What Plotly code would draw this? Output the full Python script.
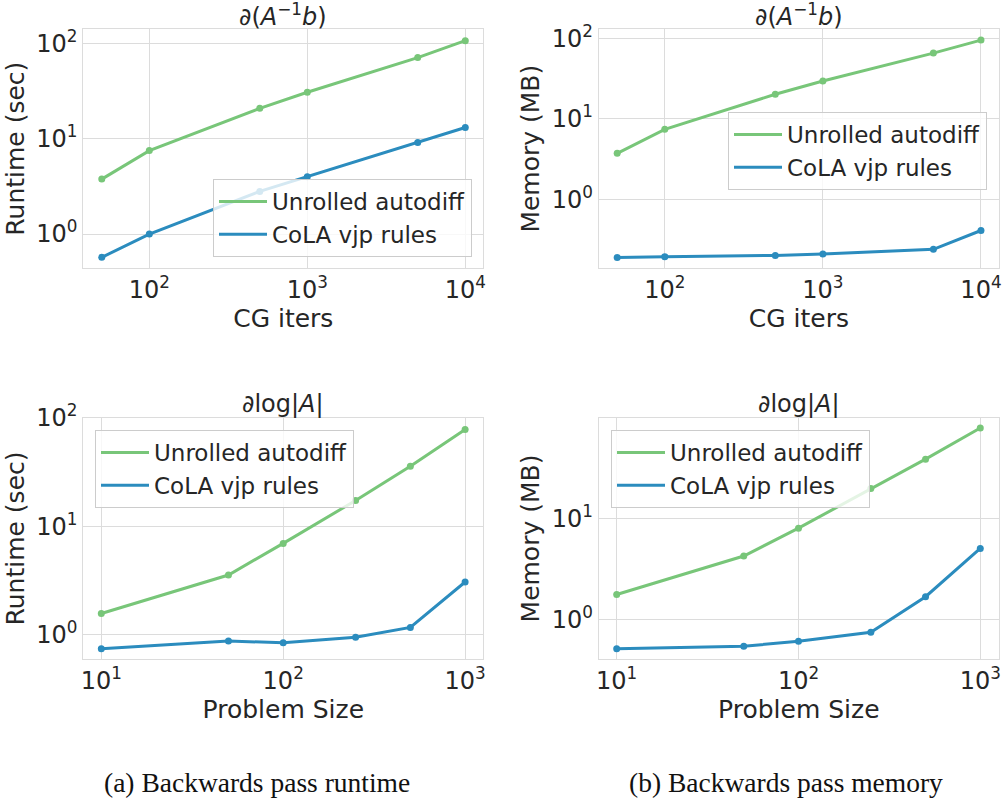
import plotly.graph_objects as go

# ---------------- data ----------------
cg_iters = [50, 100, 500, 1000, 5000, 10000]
problem_size = [10, 50, 100, 250, 500, 1000]

runtime_cg_unrolled = [3.77, 7.5, 20.8, 30.7, 70.8, 106.7]
runtime_cg_cola = [0.57, 1.0, 2.8, 4.0, 9.1, 13.1]
memory_cg_unrolled = [3.73, 7.4, 20.2, 29.5, 65.5, 95.0]
memory_cg_cola = [0.189, 0.194, 0.201, 0.209, 0.239, 0.41]

runtime_logdet_unrolled = [1.56, 3.54, 6.94, 17.3, 35.8, 78.5]
runtime_logdet_cola = [0.736, 0.867, 0.838, 0.94, 1.16, 3.05]
memory_logdet_unrolled = [1.78, 4.25, 8.0, 19.6, 38.2, 77.3]
memory_logdet_cola = [0.52, 0.55, 0.615, 0.755, 1.69, 5.05]

series_names = ["Unrolled autodiff", "CoLA vjp rules"]
x_tick_vals_cg = [100, 1000, 10000]
x_tick_text_cg = ["10<sup>2</sup>", "10<sup>3</sup>", "10<sup>4</sup>"]
x_tick_vals_ps = [10, 100, 1000]
x_tick_text_ps = ["10<sup>1</sup>", "10<sup>2</sup>", "10<sup>3</sup>"]
y_tick_vals = [1, 10, 100]
y_tick_text = ["10<sup>0</sup>", "10<sup>1</sup>", "10<sup>2</sup>"]

title_inv = "∂(<i>A</i><sup>−1</sup><i>b</i>)"
title_logdet = "∂log|<i>A</i>|"
captions = ["(a) Backwards pass runtime", "(b) Backwards pass memory"]

# ---------------- style ----------------
W, H = 1002, 801
GREEN = "#78c679"
BLUE = "#2b8cbe"
FONT = "DejaVu Sans"
TXT = "#262626"
GRID = "#dcdcdc"


def px_x(p):
    return p / W


def px_y(p):
    return 1 - p / H


panels = [
    dict(x=cg_iters, ys=[runtime_cg_unrolled, runtime_cg_cola],
         xd=(83.3, 483.3), yd=(29.3, 268), xr=[1.582, 4.114], yr=[-0.356, 2.147],
         xt=(x_tick_vals_cg, x_tick_text_cg),
         leg=dict(x=px_x(472), y=px_y(257), xanchor="right", yanchor="bottom"),
         title=title_inv, title_base=29, xlabel="CG iters", ylabel="Runtime (sec)"),
    dict(x=cg_iters, ys=[memory_cg_unrolled, memory_cg_cola],
         xd=(598.7, 999), yd=(29.3, 268), xr=[1.582, 4.114], yr=[-0.853, 2.112],
         xt=(x_tick_vals_cg, x_tick_text_cg),
         leg=dict(x=px_x(987), y=px_y(112), xanchor="right", yanchor="top"),
         title=title_inv, title_base=29, xlabel="CG iters", ylabel="Memory (MB)"),
    dict(x=problem_size, ys=[runtime_logdet_unrolled, runtime_logdet_cola],
         xd=(83.3, 483.3), yd=(417.7, 659.3), xr=[0.901, 3.1], yr=[-0.23, 2.003],
         xt=(x_tick_vals_ps, x_tick_text_ps),
         leg=dict(x=px_x(95), y=px_y(430), xanchor="left", yanchor="top"),
         title=title_logdet, title_base=416, xlabel="Problem Size", ylabel="Runtime (sec)"),
    dict(x=problem_size, ys=[memory_logdet_unrolled, memory_logdet_cola],
         xd=(598.7, 999), yd=(417.7, 659.3), xr=[0.901, 3.103], yr=[-0.388, 1.99],
         xt=(x_tick_vals_ps, x_tick_text_ps),
         leg=dict(x=px_x(611), y=px_y(430), xanchor="left", yanchor="top"),
         title=title_logdet, title_base=416, xlabel="Problem Size", ylabel="Memory (MB)"),
]

fig = go.Figure()
layout = dict(
    width=W, height=H,
    margin=dict(l=0, r=0, t=0, b=0, autoexpand=False),
    paper_bgcolor="white", plot_bgcolor="white",
    font=dict(family=FONT, size=22, color=TXT),
    annotations=[],
)

colors = [GREEN, BLUE]
for i, p in enumerate(panels):
    n = i + 1
    xa = "x" if n == 1 else f"x{n}"
    ya = "y" if n == 1 else f"y{n}"
    lg = "legend" if n == 1 else f"legend{n}"
    for name, ys, c in zip(series_names, p["ys"], colors):
        fig.add_trace(go.Scatter(
            x=p["x"], y=ys, name=name, mode="lines",
            line=dict(color=c, width=3),
            xaxis=xa, yaxis=ya, legend=lg,
        ))
        fig.add_trace(go.Scatter(
            x=p["x"], y=ys, name=name, mode="markers", showlegend=False,
            marker=dict(color=c, size=7),
            xaxis=xa, yaxis=ya,
        ))
    xkey = "xaxis" if n == 1 else f"xaxis{n}"
    ykey = "yaxis" if n == 1 else f"yaxis{n}"
    layout[xkey] = dict(
        type="log", range=p["xr"], domain=[px_x(p["xd"][0]), px_x(p["xd"][1])],
        anchor=ya, tickvals=p["xt"][0], ticktext=p["xt"][1], automargin=False,
        showgrid=True, gridcolor=GRID, gridwidth=1, zeroline=False,
        showline=True, linecolor=GRID, linewidth=1, mirror=True,
        ticks="", ticklen=0, tickfont=dict(size=24, color=TXT),
        title=dict(text=p["xlabel"], font=dict(size=25, color=TXT), standoff=0),
    )
    layout[ykey] = dict(
        type="log", range=p["yr"], domain=[px_y(p["yd"][1]), px_y(p["yd"][0])],
        anchor=xa, tickvals=y_tick_vals, ticktext=y_tick_text, automargin=False,
        showgrid=True, gridcolor=GRID, gridwidth=1, zeroline=False,
        showline=True, linecolor=GRID, linewidth=1, mirror=True,
        ticks="", ticklen=0, tickfont=dict(size=24, color=TXT),
        title=dict(text=p["ylabel"], font=dict(size=25, color=TXT), standoff=4),
    )
    layout[lg] = dict(
        **p["leg"],
        bgcolor="rgba(255,255,255,0.8)", bordercolor="#cccccc", borderwidth=1,
        font=dict(size=23, color=TXT), itemwidth=48,
        tracegroupgap=0,
    )
    cx = (p["xd"][0] + p["xd"][1]) / 2
    layout["annotations"].append(dict(
        text=p["title"], x=px_x(cx), y=px_y(p["title_base"]), xref="paper", yref="paper",
        xanchor="center", yanchor="bottom", yshift=-4, showarrow=False,
        font=dict(family=FONT, size=24, color=TXT),
    ))

for cap, cx in zip(captions, [257, 786]):
    layout["annotations"].append(dict(
        text=cap, x=px_x(cx), y=px_y(782), xref="paper", yref="paper",
        xanchor="center", yanchor="middle", showarrow=False,
        font=dict(family="Liberation Serif", size=27.5, color="#111111"),
    ))

fig.update_layout(**layout)
fig.write_html(
    "out.html",
    config={"displayModeBar": False},
    post_script="document.body.style.margin='0';document.body.style.padding='0';",
)
